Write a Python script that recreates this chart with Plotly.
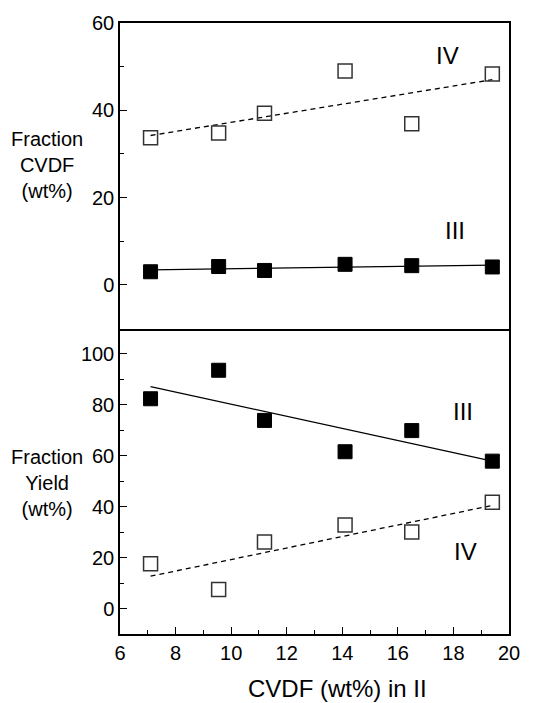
import numpy as np
import plotly.graph_objects as go

# CVDF content of the parent fraction II (wt%)
cvdf_ii = [7.1, 9.55, 11.2, 14.1, 16.5, 19.4]

# CVDF content of the sub-fractions (wt%)
cvdf_iii = [3.0, 4.2, 3.3, 4.7, 4.4, 4.1]
cvdf_iv = [33.7, 34.8, 39.3, 49.0, 36.9, 48.3]

# Yield of the sub-fractions (wt%)
yield_iii = [82.4, 93.6, 73.9, 61.6, 69.9, 57.9]
yield_iv = [17.6, 7.5, 26.1, 32.8, 30.1, 41.8]

FONT = "Liberation Sans, Arial, sans-serif"

W, H = 560, 703
ML, MR, MT, MB = 120, 51, 23, 69


def fit_line(x, y):
    k, b = np.polyfit(x, y, 1)
    xs = np.array([min(x), max(x)])
    return xs, k * xs + b


def px_to_paper(px, py):
    """Pixel position (from top-left of the page) to paper coordinates."""
    return (px - ML) / (W - ML - MR), 1 - (py - MT) / (H - MT - MB)


fig = go.Figure()

filled = dict(symbol="square", size=14, color="black", line=dict(color="black", width=1))
hollow = dict(symbol="square-open", size=14, color="#333333", line=dict(color="#333333", width=1.5))

panels = [
    ("x", "y", cvdf_iii, cvdf_iv),
    ("x2", "y2", yield_iii, yield_iv),
]
for xa, ya, s3, s4 in panels:
    fx, fy = fit_line(cvdf_ii, s3)
    fig.add_trace(go.Scatter(x=fx, y=fy, mode="lines", xaxis=xa, yaxis=ya,
                             line=dict(color="black", width=1.3)))
    fx, fy = fit_line(cvdf_ii, s4)
    fig.add_trace(go.Scatter(x=fx, y=fy, mode="lines", xaxis=xa, yaxis=ya,
                             line=dict(color="black", width=1.3, dash="5px,4px")))
    fig.add_trace(go.Scatter(x=cvdf_ii, y=s3, mode="markers", xaxis=xa, yaxis=ya, marker=filled))
    fig.add_trace(go.Scatter(x=cvdf_ii, y=s4, mode="markers", xaxis=xa, yaxis=ya, marker=hollow))

axis_common = dict(showline=True, linecolor="black", linewidth=1.5, mirror=True,
                   showgrid=False, zeroline=False, ticks="inside", ticklen=7,
                   tickwidth=1.3, tickcolor="black",
                   tickfont=dict(family=FONT, size=20, color="black"))
minor = dict(ticks="inside", ticklen=4, tickwidth=1.3, tickcolor="black", showgrid=False)

xaxis2_style = dict(axis_common)
xaxis2_style["mirror"] = False  # the shared divider is drawn by the upper panel's frame

fig.update_layout(
    width=W, height=H,
    margin=dict(l=ML, r=MR, t=MT, b=MB),
    paper_bgcolor="white", plot_bgcolor="white",
    showlegend=False,
    font=dict(family=FONT, color="black"),
    xaxis=dict(range=[6, 20], domain=[0, 1], anchor="y", showticklabels=False,
               showline=True, linecolor="black", linewidth=1.5, mirror=True,
               showgrid=False, zeroline=False, ticks=""),
    yaxis=dict(range=[-10, 60], domain=[0.5, 1], anchor="x", tickvals=[0, 20, 40, 60],
               minor=dict(tickvals=[10, 30, 50], **minor), **axis_common),
    xaxis2=dict(range=[6, 20], domain=[0, 1], anchor="y2", dtick=2, tick0=6,
                minor=dict(dtick=1, **minor), **xaxis2_style),
    yaxis2=dict(range=[-10, 110], domain=[0, 0.5], anchor="x2", tickvals=[0, 20, 40, 60, 80, 100],
                minor=dict(tickvals=[10, 30, 50, 70, 90], **minor), **axis_common),
)

lab = dict(family=FONT, size=24, color="black")
fig.add_annotation(x=17.8, y=52.5, xref="x", yref="y", text="IV", showarrow=False, font=lab)
fig.add_annotation(x=18.05, y=12.5, xref="x", yref="y", text="III", showarrow=False, font=lab)
fig.add_annotation(x=18.35, y=77.5, xref="x2", yref="y2", text="III", showarrow=False, font=lab)
fig.add_annotation(x=18.45, y=22.6, xref="x2", yref="y2", text="IV", showarrow=False, font=lab)

ytitle = dict(family=FONT, size=20, color="black")
for text, (px, py) in [("Fraction<br>CVDF<br>(wt%)", (47, 165)),
                       ("Fraction<br>Yield<br>(wt%)", (47, 483))]:
    ax, ay = px_to_paper(px, py)
    fig.add_annotation(x=ax, y=ay, xref="paper", yref="paper", showarrow=False,
                       xanchor="center", yanchor="middle", align="center",
                       text=text, font=ytitle)

tx, ty = px_to_paper(337, 688)
fig.add_annotation(x=tx, y=ty, xref="paper", yref="paper", showarrow=False,
                   xanchor="center", yanchor="middle",
                   text="CVDF (wt%) in II", font=dict(family=FONT, size=24, color="black"))

fig.write_html("out.html")
